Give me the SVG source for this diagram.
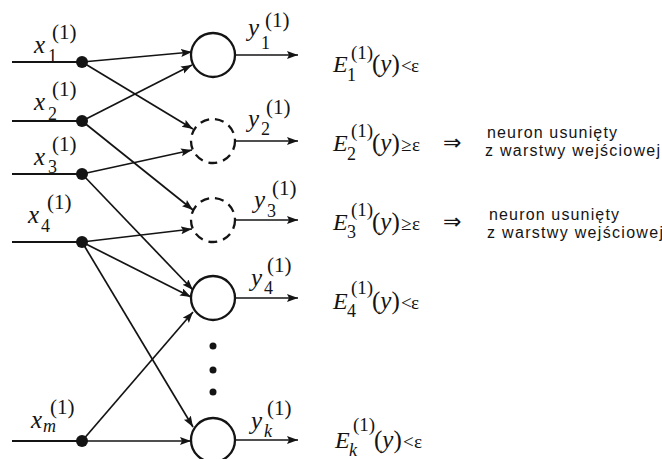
<svg xmlns="http://www.w3.org/2000/svg" width="662" height="459" viewBox="0 0 662 459">
<style>
.ln{stroke:#141414;stroke-width:1.7;fill:none}
.in{stroke:#141414;stroke-width:2;fill:none}
.nc{fill:#fff;stroke:#141414;stroke-width:2.3}
.nd{fill:#fff;stroke:#141414;stroke-width:2.3;stroke-dasharray:9 6}
.dot{fill:#141414}
.v{font-family:"Liberation Serif","Times New Roman",serif;font-style:italic;font-size:25px;fill:#141414}
.e{font-family:"Liberation Serif","Times New Roman",serif;font-style:italic;font-size:24px;fill:#141414}
.s{font-family:"Liberation Serif","Times New Roman",serif;font-size:18px;fill:#141414}
.si{font-family:"Liberation Serif","Times New Roman",serif;font-style:italic;font-size:18px;fill:#141414}
.p{font-family:"Liberation Serif","Times New Roman",serif;font-size:21px;fill:#141414}
.pe{font-family:"Liberation Serif","Times New Roman",serif;font-size:19px;fill:#141414}
.r{font-family:"Liberation Serif","Times New Roman",serif;font-size:25px;fill:#141414}
.o{font-family:"Liberation Serif","Times New Roman",serif;font-size:19px;fill:#141414}
.ar{font-family:"DejaVu Sans",sans-serif;font-size:22px;fill:#141414}
.pl{font-family:"Liberation Sans",Arial,sans-serif;font-size:16px;fill:#141414}
</style>
<defs>
<marker id="ah" markerUnits="userSpaceOnUse" markerWidth="12" markerHeight="9" refX="11" refY="4" orient="auto">
<path d="M0,0 L11,4 L0,8 L2,4 z" fill="#141414"/>
</marker>
</defs>

<g id="connectors">
<line class="in" x1="12" y1="62" x2="82" y2="62"/>
<line class="in" x1="12" y1="121" x2="82" y2="121"/>
<line class="in" x1="12" y1="174" x2="82" y2="174"/>
<line class="in" x1="12" y1="242" x2="82" y2="242"/>
<line class="in" x1="12" y1="441" x2="82" y2="441"/>
<line class="ln" x1="82" y1="62" x2="192" y2="52" marker-end="url(#ah)"/>
<line class="ln" x1="82" y1="62" x2="193" y2="129" marker-end="url(#ah)"/>
<line class="ln" x1="82" y1="121" x2="192" y2="65" marker-end="url(#ah)"/>
<line class="ln" x1="82" y1="121" x2="193" y2="210" marker-end="url(#ah)"/>
<line class="ln" x1="82" y1="174" x2="192" y2="150" marker-end="url(#ah)"/>
<line class="ln" x1="82" y1="174" x2="193" y2="290" marker-end="url(#ah)"/>
<line class="ln" x1="82" y1="242" x2="192" y2="229" marker-end="url(#ah)"/>
<line class="ln" x1="82" y1="242" x2="191" y2="297" marker-end="url(#ah)"/>
<line class="ln" x1="82" y1="242" x2="193" y2="427" marker-end="url(#ah)"/>
<line class="ln" x1="82" y1="441" x2="193" y2="312" marker-end="url(#ah)"/>
<line class="ln" x1="82" y1="441" x2="191" y2="441" marker-end="url(#ah)"/>
<line class="ln" x1="235" y1="55" x2="298" y2="55" marker-end="url(#ah)"/>
<line class="ln" x1="235" y1="141" x2="298" y2="141" marker-end="url(#ah)"/>
<line class="ln" x1="235" y1="220" x2="298" y2="220" marker-end="url(#ah)"/>
<line class="ln" x1="235" y1="298" x2="298" y2="298" marker-end="url(#ah)"/>
<line class="ln" x1="235" y1="440" x2="298" y2="440" marker-end="url(#ah)"/>
</g>

<g id="in1"><circle class="dot" cx="82" cy="62" r="6"/>
<text class="v" x="34" y="53">x</text><text class="s" x="48" y="62">1</text><text class="p" x="52" y="39">(1)</text></g>
<g id="in2"><circle class="dot" cx="82" cy="121" r="6"/>
<text class="v" x="34" y="110">x</text><text class="s" x="48" y="120">2</text><text class="p" x="52" y="96">(1)</text></g>
<g id="in3"><circle class="dot" cx="82" cy="174" r="6"/>
<text class="v" x="34" y="165">x</text><text class="s" x="48" y="173">3</text><text class="p" x="52" y="151">(1)</text></g>
<g id="in4"><circle class="dot" cx="82" cy="242" r="6"/>
<text class="v" x="28" y="223">x</text><text class="s" x="41" y="232">4</text><text class="p" x="47" y="209">(1)</text></g>
<g id="inm"><circle class="dot" cx="82" cy="441" r="6"/>
<text class="v" x="31" y="428">x</text><text class="si" x="43" y="432">m</text><text class="p" x="50" y="414">(1)</text></g>

<g id="n1"><circle class="nc" cx="213" cy="55" r="22"/>
<text class="v" x="248" y="36">y</text><text class="s" x="261" y="49">1</text><text class="p" x="265" y="27">(1)</text>
<text class="e" x="333" y="72">E</text><text class="s" x="347" y="81">1</text><text class="pe" x="351" y="59">(1)</text>
<text class="r" x="372" y="72">(<tspan font-style="italic">y</tspan>)</text><text class="o" x="401" y="72">&lt;</text><text class="o" x="411" y="72">ε</text></g>

<g id="n2"><circle class="nd" cx="213" cy="141" r="22"/>
<text class="v" x="248" y="127">y</text><text class="s" x="261" y="135">2</text><text class="p" x="266" y="114">(1)</text>
<text class="e" x="333" y="151">E</text><text class="s" x="347" y="160">2</text><text class="pe" x="351" y="137">(1)</text>
<text class="r" x="372" y="151">(<tspan font-style="italic">y</tspan>)</text><text class="o" x="401" y="151">≥</text><text class="o" x="412" y="151">ε</text>
<text class="ar" x="443" y="150">⇒</text>
<text class="pl" x="487" y="138" textLength="130">neuron usunięty</text>
<text class="pl" x="485" y="156" textLength="175">z warstwy wejściowej</text></g>

<g id="n3"><circle class="nd" cx="213" cy="220" r="22"/>
<text class="v" x="254" y="208">y</text><text class="s" x="267" y="217">3</text><text class="p" x="272" y="195">(1)</text>
<text class="e" x="333" y="230">E</text><text class="s" x="347" y="238">3</text><text class="pe" x="351" y="216">(1)</text>
<text class="r" x="372" y="230">(<tspan font-style="italic">y</tspan>)</text><text class="o" x="401" y="230">≥</text><text class="o" x="412" y="230">ε</text>
<text class="ar" x="443" y="229">⇒</text>
<text class="pl" x="489" y="220" textLength="130">neuron usunięty</text>
<text class="pl" x="487" y="238" textLength="176">z warstwy wejściowej</text></g>

<g id="n4"><circle class="nc" cx="213" cy="298" r="22"/>
<text class="v" x="251" y="286">y</text><text class="s" x="264" y="294">4</text><text class="p" x="267" y="272">(1)</text>
<text class="e" x="333" y="309">E</text><text class="s" x="347" y="317">4</text><text class="pe" x="351" y="294">(1)</text>
<text class="r" x="372" y="309">(<tspan font-style="italic">y</tspan>)</text><text class="o" x="401" y="309">&lt;</text><text class="o" x="411" y="309">ε</text></g>

<g id="dots"><circle class="dot" cx="213" cy="346" r="3.5"/><circle class="dot" cx="213" cy="370" r="3.5"/><circle class="dot" cx="213" cy="392" r="3.5"/></g>

<g id="nk"><circle class="nc" cx="213" cy="440" r="22"/>
<text class="v" x="251" y="429">y</text><text class="si" x="264" y="437">k</text><text class="p" x="267" y="415">(1)</text>
<text class="e" x="335" y="448">E</text><text class="si" x="349" y="456">k</text><text class="pe" x="353" y="431">(1)</text>
<text class="r" x="374" y="448">(<tspan font-style="italic">y</tspan>)</text><text class="o" x="403" y="448">&lt;</text><text class="o" x="414" y="448">ε</text></g>
</svg>
